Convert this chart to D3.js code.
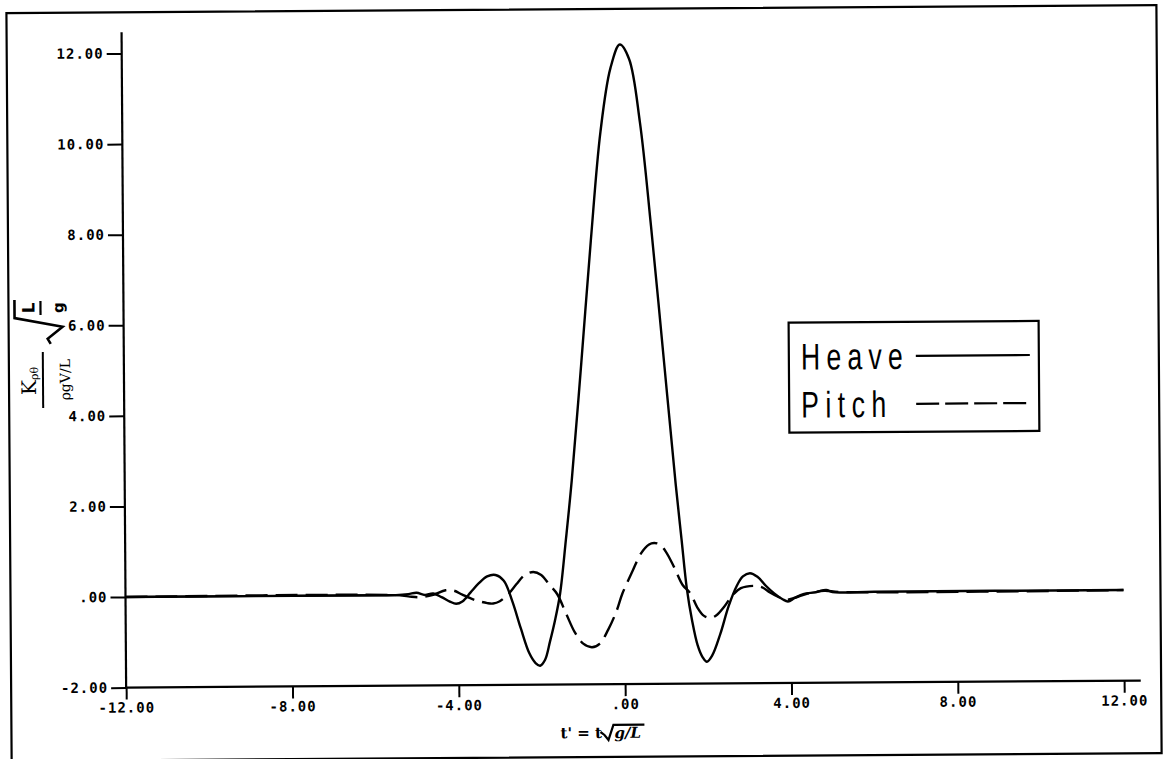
<!DOCTYPE html>
<html>
<head>
<meta charset="utf-8">
<script src="https://cdn.jsdelivr.net/npm/d3@7"></script>
<style>
  html, body { margin: 0; padding: 0; background: #fff; }
  svg { display: block; }
  .tick text { font-family: "DejaVu Sans Mono", monospace; font-weight: bold; font-size: 14px; letter-spacing: 1px; fill: #000; }
  .tick line { stroke: #000; stroke-width: 2; }
</style>
</head>
<body>
<script>
// Impulse-response (kernel) curves for heave and pitch vs. non-dimensional time
const heaveT = [-12, -6, -5.5, -5.2, -5.0, -4.8, -4.6, -4.4, -4.2, -4.05, -3.9, -3.7, -3.5, -3.3, -3.1, -2.9, -2.7, -2.5, -2.3, -2.15, -2.04, -1.92, -1.8, -1.68, -1.55, -1.4, -1.25, -1.0, -0.75, -0.5, -0.25, -0.02, 0.2, 0.45, 0.7, 1.0, 1.25, 1.38, 1.5, 1.62, 1.75, 1.87, 1.97, 2.1, 2.3, 2.5, 2.7, 2.85, 3.02, 3.2, 3.4, 3.6, 3.8, 3.93, 4.1, 4.3, 4.6, 4.85, 5.0, 5.3, 6, 12];
const heaveV = [0, 0, 0, 0.02, 0.05, 0.0, 0.03, -0.05, -0.15, -0.2, -0.15, 0.05, 0.25, 0.4, 0.43, 0.3, -0.15, -0.75, -1.3, -1.52, -1.58, -1.45, -1.05, -0.6, 0.0, 1.2, 2.5, 5.1, 7.8, 10.2, 11.6, 12.12, 11.8, 10.4, 8.1, 5.0, 2.4, 1.2, 0.1, -0.6, -1.15, -1.42, -1.52, -1.38, -0.9, -0.3, 0.15, 0.36, 0.43, 0.35, 0.15, -0.02, -0.15, -0.2, -0.12, -0.04, 0.0, 0.05, 0.0, -0.01, 0, 0];

const pitchT = [-12, -5.5, -5.2, -4.9, -4.6, -4.3, -4.1, -3.9, -3.6, -3.3, -3.16, -3.0, -2.8, -2.6, -2.4, -2.19, -2.0, -1.8, -1.62, -1.4, -1.2, -1.0, -0.79, -0.6, -0.4, -0.2, -0.05, 0.2, 0.4, 0.6, 0.72, 0.85, 1.0, 1.2, 1.4, 1.58, 1.75, 1.9, 2.06, 2.2, 2.4, 2.6, 2.8, 3.1, 3.3, 3.5, 3.7, 3.9, 4.1, 4.4, 4.8, 5.2, 12];
const pitchV = [0, 0, -0.03, -0.05, 0.0, 0.1, 0.09, 0.0, -0.12, -0.19, -0.2, -0.15, 0.0, 0.22, 0.42, 0.49, 0.42, 0.2, 0.0, -0.45, -0.85, -1.1, -1.18, -1.1, -0.8, -0.4, 0.0, 0.5, 0.88, 1.08, 1.11, 1.08, 0.92, 0.57, 0.18, 0.0, -0.32, -0.5, -0.55, -0.5, -0.3, -0.05, 0.1, 0.15, 0.12, 0.0, -0.1, -0.16, -0.12, -0.03, 0.03, 0, 0];

const xTicks = [-12, -8, -4, 0, 4, 8, 12];
const xTickLabels = ["-12.00", "-8.00", "-4.00", ".00", "4.00", "8.00", "12.00"];
const yTicks = [-2, 0, 2, 4, 6, 8, 10, 12];
const yTickLabels = ["-2.00", ".00", "2.00", "4.00", "6.00", "8.00", "10.00", "12.00"];
const seriesNames = ["Heave", "Pitch"];

const W = 1167, H = 759;
const svg = d3.select("body").append("svg").attr("width", W).attr("height", H);

// the whole sheet sits very slightly rotated on the page
const page = svg.append("g").attr("transform", "rotate(-0.4, 600, 380)");

// outer frame
page.append("rect").attr("x", 9).attr("y", 9).attr("width", 1150).attr("height", 748)
  .attr("fill", "none").attr("stroke", "#000").attr("stroke-width", 2.2);

const x = d3.scaleLinear().domain([-12, 12]).range([124, 1122]);
const y = d3.scaleLinear().domain([-2, 12]).range([684.3, 50.1]);

// axes
const xAxis = d3.axisBottom(x).tickValues(xTicks)
  .tickFormat((d, i) => xTickLabels[i]).tickSizeInner(12).tickSizeOuter(0).tickPadding(3);
const gx = page.append("g").attr("transform", `translate(0,${y(-2)})`).call(xAxis);
gx.select(".domain").remove();

const yAxis = d3.axisLeft(y).tickValues(yTicks)
  .tickFormat((d, i) => yTickLabels[i]).tickSizeInner(15).tickSizeOuter(0).tickPadding(3);
const gy = page.append("g").attr("transform", `translate(${x(-12)},0)`).call(yAxis);
gy.select(".domain").remove();

page.append("line").attr("x1", x(-12)).attr("x2", x(12.4)).attr("y1", y(-2)).attr("y2", y(-2))
  .attr("stroke", "#000").attr("stroke-width", 2.2);
page.append("line").attr("x1", x(-12)).attr("x2", x(-12)).attr("y1", y(-2)).attr("y2", y(12.47))
  .attr("stroke", "#000").attr("stroke-width", 2.2);
// zero line
page.append("line").attr("x1", x(-12)).attr("x2", x(-5.5)).attr("y1", y(0)).attr("y2", y(0))
  .attr("stroke", "#000").attr("stroke-width", 2);

// curves
const line = d3.line().x(d => x(d[0])).y(d => y(d[1])).curve(d3.curveCatmullRom.alpha(0.5));
page.append("path").datum(d3.zip(heaveT, heaveV)).attr("d", line)
  .attr("fill", "none").attr("stroke", "#000").attr("stroke-width", 2.4);
page.append("path").datum(d3.zip(pitchT, pitchV)).attr("d", line)
  .attr("fill", "none").attr("stroke", "#000").attr("stroke-width", 2.4)
  .attr("stroke-dasharray", "22,8");

// legend: thin, tall, letter-spaced plotter lettering
const lg = page.append("g");
lg.append("rect").attr("x", 789).attr("y", 324).attr("width", 250).attr("height", 110)
  .attr("fill", "#fff").attr("stroke", "#000").attr("stroke-width", 2.2);
const legendRows = [
  { name: seriesNames[0], dash: null, yy: 358, len: 102 },
  { name: seriesNames[1], dash: "23,6", yy: 406, len: 85 }
];
const squeeze = 0.72;
legendRows.forEach(r => {
  lg.append("text").attr("transform", `translate(801,${r.yy + 13}) scale(${squeeze},1)`)
    .text(r.name)
    .attr("font-family", "Liberation Sans, Arial, sans-serif").attr("font-size", 37)
    .attr("textLength", r.len / squeeze).attr("lengthAdjust", "spacing")
    .attr("fill", "#000");
  lg.append("line").attr("x1", 916).attr("x2", 1030).attr("y1", r.yy).attr("y2", r.yy)
    .attr("stroke", "#000").attr("stroke-width", 2.2).attr("stroke-dasharray", r.dash);
});

// y-axis title: K_pθ / (ρgV/L) · sqrt(L/g), written bottom-to-top
const yl = page.append("g").attr("transform", "translate(43,404) rotate(-90)");
yl.append("line").attr("x1", 0).attr("x2", 56).attr("y1", 0).attr("y2", 0)
  .attr("stroke", "#000").attr("stroke-width", 2);
const num = yl.append("text").attr("x", 27).attr("y", -7).attr("text-anchor", "middle")
  .attr("font-family", "DejaVu Serif, serif").attr("font-size", 20).attr("fill", "#000");
num.append("tspan").text("K");
num.append("tspan").attr("font-size", 11).attr("dy", 2).text("ρθ");
yl.append("text").attr("x", 28).attr("y", 27).attr("text-anchor", "middle")
  .attr("font-family", "DejaVu Serif, serif").attr("font-size", 14).attr("fill", "#000")
  .text("ρgV/L");
yl.append("path").attr("d", "M64,8 L69,5 L81,20 L90,-28 L108,-28")
  .attr("fill", "none").attr("stroke", "#000").attr("stroke-width", 2.6);
yl.append("text").attr("x", 100).attr("y", -8).attr("text-anchor", "middle")
  .attr("font-family", "DejaVu Sans, sans-serif").attr("font-weight", "bold").attr("font-size", 17).text("L");
yl.append("line").attr("x1", 93).attr("x2", 107).attr("y1", -2).attr("y2", -2).attr("stroke", "#000").attr("stroke-width", 2.2);
yl.append("text").attr("x", 100).attr("y", 21).attr("text-anchor", "middle")
  .attr("font-family", "DejaVu Sans, sans-serif").attr("font-weight", "bold").attr("font-size", 15).text("g");

// x-axis title: t' = t sqrt(g/L)
const xl = page.append("g").attr("transform", "translate(0,738)");
xl.append("text").attr("x", 558).attr("y", 0)
  .attr("font-family", "DejaVu Serif, serif").attr("font-weight", "bold").attr("font-size", 15)
  .text("t' = t");
xl.append("path").attr("d", "M598,-6 L602,-3 L606,2 L611,-13 L642,-13")
  .attr("fill", "none").attr("stroke", "#000").attr("stroke-width", 2.2);
xl.append("text").attr("x", 612).attr("y", 0)
  .attr("font-family", "DejaVu Serif, serif").attr("font-style", "italic").attr("font-weight", "bold").attr("font-size", 15)
  .text("g/L");
</script>
</body>
</html>
